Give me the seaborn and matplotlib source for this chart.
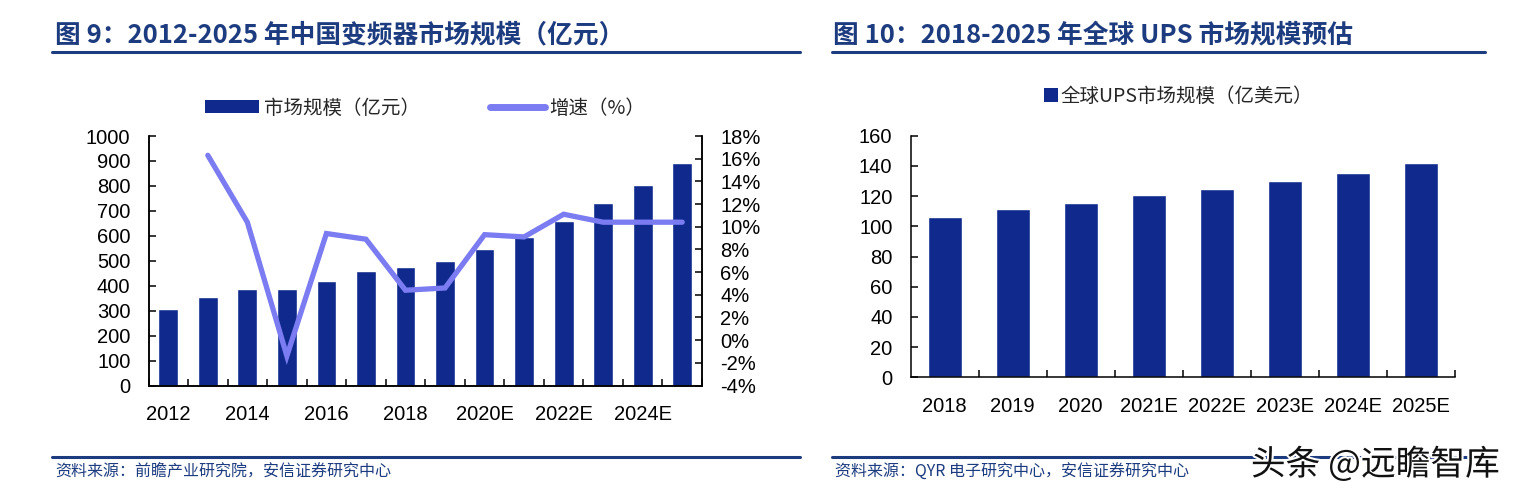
import numpy as np
import pandas as pd
import matplotlib
matplotlib.use("Agg")
import matplotlib.pyplot as plt
import seaborn as sns
from matplotlib.lines import Line2D
from matplotlib.patches import Patch
from matplotlib.ticker import MultipleLocator, FixedLocator, FuncFormatter
import matplotlib.patheffects as pe

# ---------------- data ----------------
years_left = ["2012", "2013", "2014", "2015", "2016", "2017", "2018", "2019",
              "2020E", "2021E", "2022E", "2023E", "2024E", "2025E"]
market_size = [306, 354, 386, 386, 418, 458, 474, 498, 546, 594, 658, 730, 802, 890]
growth_pct = [np.nan, 16.3, 10.4, -1.4, 9.4, 8.9, 4.4, 4.6, 9.3, 9.1, 11.1, 10.4, 10.4, 10.4]

years_right = ["2018", "2019", "2020", "2021E", "2022E", "2023E", "2024E", "2025E"]
ups_size = [105.9, 111.2, 115.2, 120.5, 124.5, 129.8, 135.1, 141.7]

title_left = "图 9：2012-2025 年中国变频器市场规模（亿元）"
title_right = "图 10：2018-2025 年全球 UPS 市场规模预估"
source_left = "资料来源：前瞻产业研究院，安信证券研究中心"
source_right = "资料来源：QYR 电子研究中心，安信证券研究中心"
legend_bar_left = "市场规模（亿元）"
legend_line_left = "增速（%）"
legend_right = "全球UPS市场规模（亿美元）"
watermark = "头条 @远瞻智库"

# ---------------- style ----------------
sns.set_theme(style="white")
plt.rcParams["font.family"] = ["Liberation Sans", "Noto Sans CJK SC", "DejaVu Sans"]
plt.rcParams["axes.unicode_minus"] = False

BAR = "#0F2A8C"
LINE = "#7B7BF2"
NAVY = "#1D3C80"
TICK_FS = 14.5

W, H = 1514, 501
fig = plt.figure(figsize=(W / 100, H / 100), dpi=100)
fig.patch.set_facecolor("white")


def px(l, t, r, b):
    return [l / W, 1 - b / H, (r - l) / W, (b - t) / H]


def style_axis(ax, spines_on):
    for s in ["left", "right", "top", "bottom"]:
        ax.spines[s].set_visible(s in spines_on)
        ax.spines[s].set_color("black")
        ax.spines[s].set_linewidth(1.1)
    ax.grid(False)
    ax.set_xlabel("")
    ax.set_ylabel("")


# ---------------- left chart ----------------
ax1 = fig.add_axes(px(148.5, 136, 702, 385.5))
df_l = pd.DataFrame({"year": years_left, "size": market_size, "growth": growth_pct})
sns.barplot(data=df_l, x="year", y="size", color=BAR, saturation=1, width=0.5, ax=ax1)
ax1.set_ylim(0, 1000)
ax1.set_xlim(-0.5, len(years_left) - 0.5)
ax1.yaxis.set_major_locator(MultipleLocator(100))
style_axis(ax1, ["left", "bottom", "right"])
ax1.set_xticks(range(0, len(years_left), 2))
ax1.set_xticklabels(years_left[::2])
ax1.xaxis.set_minor_locator(FixedLocator(np.arange(-0.5, len(years_left), 1.0)))
ax1.tick_params(axis="x", which="major", length=0, pad=14, labelsize=TICK_FS, colors="black")
ax1.tick_params(axis="x", which="minor", bottom=True, direction="in", length=5, width=1.1, color="black")
ax1.tick_params(axis="y", left=True, direction="in", length=5, width=1.1, pad=13,
                labelsize=TICK_FS, colors="black")

ax2 = ax1.twinx()
sns.lineplot(x=np.arange(len(years_left)), y=df_l["growth"], color=LINE, linewidth=3.8,
             ax=ax2, sort=False, solid_capstyle="round", solid_joinstyle="miter")
ax2.set_ylim(-4, 18)
ax2.yaxis.set_major_locator(MultipleLocator(2))
ax2.yaxis.set_major_formatter(FuncFormatter(lambda v, p: f"{int(round(v))}%"))
style_axis(ax2, ["left", "bottom", "right"])
ax2.tick_params(axis="y", right=True, direction="in", length=5, width=1.1, pad=13,
                labelsize=TICK_FS, colors="black")

fig.legend(handles=[Patch(facecolor=BAR, edgecolor="none", label=legend_bar_left),
                    Line2D([0], [0], color=LINE, lw=5, solid_capstyle="round", label=legend_line_left)],
           loc="center left", bbox_to_anchor=(205 / W, 1 - 108 / H), ncol=2, frameon=False,
           handlelength=2.8, handleheight=0.65, handletextpad=0.25,
           columnspacing=3.6, borderpad=0, borderaxespad=0,
           prop={"family": ["Noto Sans CJK SC", "Liberation Sans"], "size": 14})

# ---------------- right chart ----------------
ax3 = fig.add_axes(px(910.5, 135.7, 1455, 377.3))
df_r = pd.DataFrame({"year": years_right, "size": ups_size})
sns.barplot(data=df_r, x="year", y="size", color=BAR, saturation=1, width=0.5, ax=ax3)
ax3.set_ylim(0, 160)
ax3.set_xlim(-0.5, len(years_right) - 0.5)
ax3.yaxis.set_major_locator(MultipleLocator(20))
style_axis(ax3, ["left", "bottom"])
ax3.xaxis.set_minor_locator(FixedLocator(np.arange(0.5, len(years_right), 1.0)))
ax3.tick_params(axis="x", which="major", length=0, pad=14, labelsize=TICK_FS, colors="black")
ax3.tick_params(axis="x", which="minor", bottom=True, direction="in", length=5, width=1.1, color="black")
ax3.tick_params(axis="y", left=True, direction="in", length=5, width=1.1, pad=13,
                labelsize=TICK_FS, colors="black")

fig.legend(handles=[Patch(facecolor=BAR, edgecolor="none", label=legend_right)],
           loc="center left", bbox_to_anchor=(1044 / W, 1 - 96 / H), frameon=False,
           handlelength=0.7, handleheight=0.7, handletextpad=0.15,
           borderpad=0, borderaxespad=0,
           prop={"family": ["Noto Sans CJK SC", "Liberation Sans"], "size": 14})

# ---------------- titles, rules, sources ----------------
title_font = {"family": ["Noto Sans CJK SC", "DejaVu Sans"], "weight": "bold", "size": 18.5}
fig.text(55 / W, 1 - 35 / H, title_left, color=NAVY, ha="left", va="center", fontdict=title_font)
fig.text(833 / W, 1 - 35 / H, title_right, color=NAVY, ha="left", va="center", fontdict=title_font)

for (x0, x1) in [(52, 800), (832, 1485)]:
    fig.add_artist(Line2D([x0 / W, x1 / W], [1 - 52 / H] * 2, color=NAVY, lw=2.2))
    fig.add_artist(Line2D([x0 / W, x1 / W], [1 - 457 / H] * 2, color=NAVY, lw=2.2))

src_font = {"family": ["Noto Sans CJK SC", "DejaVu Sans"], "size": 11.5, "style": "italic"}
fig.text(55 / W, 1 - 472 / H, source_left, color=NAVY, ha="left", va="center", fontdict=src_font)
fig.text(835 / W, 1 - 472 / H, source_right, color=NAVY, ha="left", va="center", fontdict=src_font)

wm = fig.text(1500 / W, 1 - 465 / H, watermark, color="#111111", ha="right", va="center",
              fontdict={"family": ["Noto Sans CJK SC", "DejaVu Sans"], "size": 25})
wm.set_path_effects([pe.withStroke(linewidth=3, foreground="white")])

fig.savefig("out.png", dpi=100, facecolor="white")
